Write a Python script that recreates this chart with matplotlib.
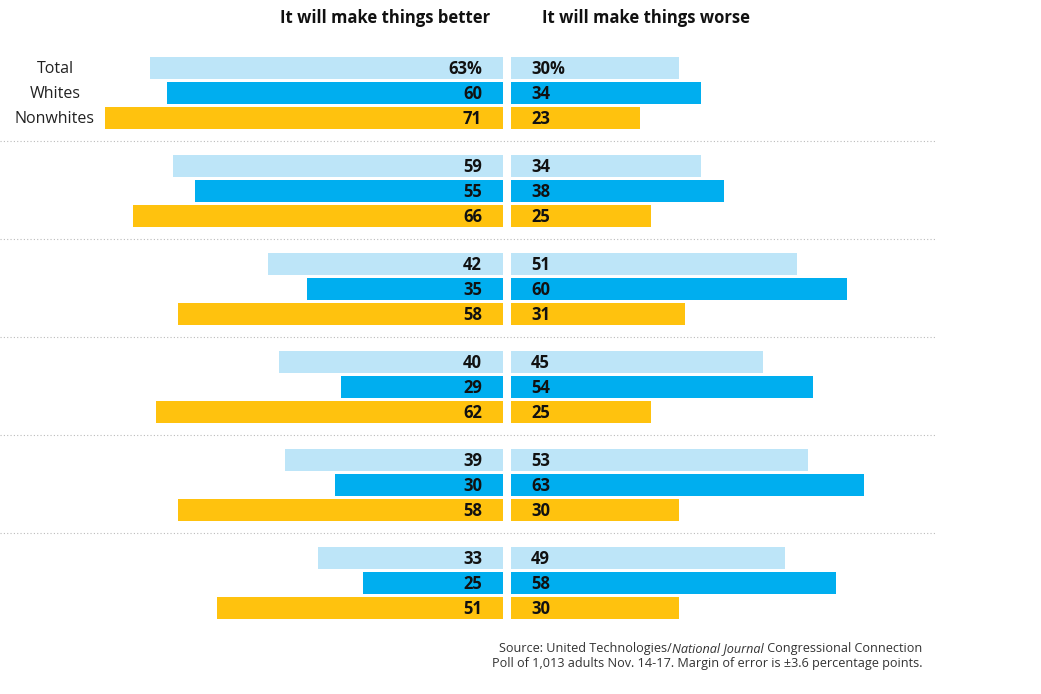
"""
Better / worse split bars by race
"""
import matplotlib.pyplot as plt

groups = ["Total", "Whites", "Nonwhites"]
better_total = [63, 59, 42, 40, 39, 33]
better_whites = [60, 55, 35, 29, 30, 25]
better_nonwhites = [71, 66, 58, 62, 58, 51]
worse_total = [30, 34, 51, 45, 53, 49]
worse_whites = [34, 38, 60, 54, 63, 58]
worse_nonwhites = [23, 25, 31, 25, 30, 30]

colors = ["#BDE5F8", "#00AEEF", "#FFC20E"]
FONT = "Open Sans"

better = [better_total, better_whites, better_nonwhites]
worse = [worse_total, worse_whites, worse_nonwhites]

# 1 point = 5.6 px, centre of the split at pixel 507
px = 5.6
gap = 4 / px

fig = plt.figure(figsize=(10.41, 6.94), dpi=100)
ax = fig.add_axes([0, 0, 1, 1])
ax.set_xlim(-507 / px, (1041 - 507) / px)
ax.set_ylim(694, 0)
ax.axis("off")

for r in range(3):
    for g in range(6):
        y = 68 + 98 * g + 25 * r
        b = better[r][g]
        w = worse[r][g]
        ax.barh(y, -b, left=-gap, height=22, color=colors[r])
        ax.barh(y, w, left=gap, height=22, color=colors[r])
        suffix = "%" if (r == 0 and g == 0) else ""
        ax.text(-gap - 21 / px, y + 1, f"{b}{suffix}", ha="right", va="center",
                fontsize=12, fontweight="bold", family=FONT, color="#111111")
        ax.text(gap + 20 / px, y + 1, f"{w}{suffix}", ha="left", va="center",
                fontsize=12, fontweight="bold", family=FONT, color="#111111")

for r, name in enumerate(groups):
    ax.text((55 - 507) / px, 68 + 25 * r + 1, name, ha="center", va="center",
            fontsize=11.5, family=FONT, color="#222222")

for g in range(5):
    y = 141 + 98 * g
    ax.plot([-507 / px, (935 - 507) / px], [y, y], color="#BBBBBB",
            linestyle=(0, (1, 2)), linewidth=0.8)

ax.text((490 - 507) / px, 18, "It will make things better", ha="right", va="center",
        fontsize=12, fontweight="bold", family=FONT, color="#111111")
ax.text((542 - 507) / px, 18, "It will make things worse", ha="left", va="center",
        fontsize=12, fontweight="bold", family=FONT, color="#111111")

# source note, built right to left so the italic title sits inline
right = (922 - 507) / px
t3 = ax.text(right, 655, " Congressional Connection", ha="right", va="bottom",
             fontsize=9.1, family=FONT, color="#333333")
t2 = ax.annotate("National Journal", xy=(0, 0), xycoords=t3, ha="right", va="bottom",
                 fontsize=9.1, family=FONT, style="italic", color="#333333")
ax.annotate("Source: United Technologies/", xy=(0, 0), xycoords=t2, ha="right",
            va="bottom", fontsize=9.1, family=FONT, color="#333333")
ax.text(right, 670, "Poll of 1,013 adults Nov. 14-17. Margin of error is \u00b13.6 percentage points.",
        ha="right", va="bottom", fontsize=9.1, family=FONT, color="#333333")

plt.savefig("out.png", dpi=100)
